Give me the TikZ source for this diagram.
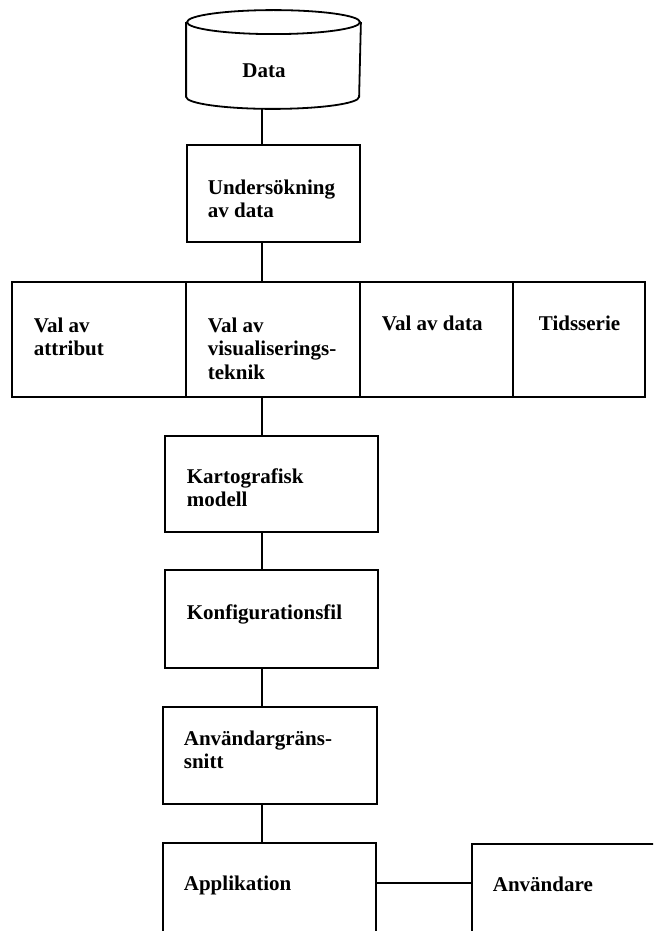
\documentclass[tikz,border=0pt]{standalone}
\usepackage{fontspec}
\setmainfont{Liberation Serif}
\newcommand\mylines[1]{\begin{tabular}[t]{@{}l@{}}#1\end{tabular}}
\begin{document}
\begin{tikzpicture}[x=1pt,y=1pt,
  line width=1.8pt,
  box/.style={draw, line width=1.8pt, inner sep=0pt},
  lbl/.style={inner sep=0pt, anchor=base west, font=\fontsize{21}{23.5}\selectfont\bfseries},
  conn/.style={draw, line width=1.8pt}]
\clip (0,0) rectangle (653,-931);
\fill[white] (0,0) rectangle (653,-931);
\coordinate (spine) at (262,0);
\coordinate (hline) at (0,-883);
% cylinder
\node[inner sep=0pt, minimum width=173pt, minimum height=97pt] (cyl) at (273.5,-59.5) {};
\draw[line width=1.8pt] (cyl.north) ++(0,-12) ellipse [x radius=86.5pt, y radius=12pt];
\draw[line width=1.8pt] ([yshift=-12pt]cyl.north west) -- ([yshift=12pt]cyl.south west)
  arc[start angle=180, end angle=360, x radius=86.5pt, y radius=12pt]
  -- ([yshift=-12pt]cyl.north east);
\node[lbl, anchor=base] (tdata) at (264,-78) {Data};
% boxes
\node[box, minimum width=173pt, minimum height=97pt] (b1) at (273.5,-193.5) {};
\node[box, minimum width=174pt, minimum height=115pt] (a1) at (99,-339.5) {};
\node[box, minimum width=174pt, minimum height=115pt] (a2) at (273,-339.5) {};
\node[box, minimum width=153pt, minimum height=115pt] (a3) at (436.5,-339.5) {};
\node[box, minimum width=132pt, minimum height=115pt] (a4) at (579,-339.5) {};
\node[box, minimum width=213pt, minimum height=96pt] (kart) at (271.5,-484) {};
\node[box, minimum width=213pt, minimum height=98pt] (konf) at (271.5,-619) {};
\node[box, minimum width=214pt, minimum height=97pt] (anv) at (270,-755.5) {};
\node[box, minimum width=213pt, minimum height=157pt] (appl) at (269.5,-921.5) {};
\node[box, minimum width=248pt, minimum height=156pt] (user) at (596,-922) {};
% texts
\node[lbl] (t1) at (207,-194) {\mylines{Undersökning\\av data}};
\node[lbl] (ta1) at (33,-332) {\mylines{Val av\\attribut}};
\node[lbl] (ta2) at (207,-332) {\mylines{Val av\\visualiserings-\\teknik}};
\node[lbl] (ta3) at (381,-330) {Val av data};
\node[lbl] (ta4) at (538,-330) {Tidsserie};
\node[lbl] (tk) at (186,-483) {\mylines{Kartografisk\\modell}};
\node[lbl] (tc) at (186,-619) {Konfigurationsfil};
\node[lbl] (tg) at (183,-745) {\mylines{Användargräns-\\snitt}};
\node[lbl] (tp) at (183,-890) {Applikation};
\node[lbl] (tu) at (492,-891) {Användare};
% connectors
\draw[conn] (cyl.south -| spine) -- (b1.north -| spine);
\draw[conn] (b1.south -| spine) -- (a2.north -| spine);
\draw[conn] (a2.south -| spine) -- (kart.north -| spine);
\draw[conn] (kart.south -| spine) -- (konf.north -| spine);
\draw[conn] (konf.south -| spine) -- (anv.north -| spine);
\draw[conn] (anv.south -| spine) -- (appl.north -| spine);
\draw[conn] (appl.east |- hline) -- (user.west |- hline);
\end{tikzpicture}
\end{document}
